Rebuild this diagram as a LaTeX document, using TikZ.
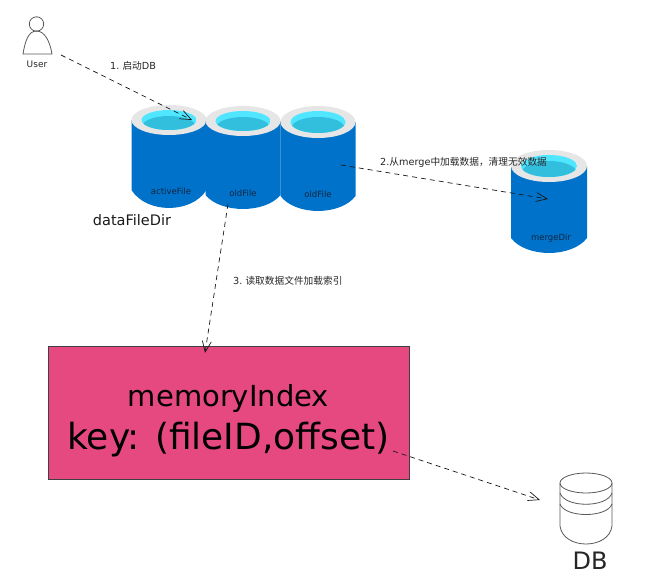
\documentclass[tikz,border=0pt]{standalone}
\usepackage{fontspec}
\setmainfont{DejaVu Sans}
\newfontfamily\cjk{Noto Sans CJK SC}
\usetikzlibrary{arrows.meta}
\definecolor{fileblue}{HTML}{0072C9}
\definecolor{rimgray}{HTML}{E6E6E6}
\definecolor{waterlight}{HTML}{50E6FF}
\definecolor{waterdark}{HTML}{32BEDD}
\definecolor{indexpink}{HTML}{E64980}
\definecolor{filetext}{HTML}{12263F}
\tikzset{
  flow/.style={draw=black!90,line width=0.7pt,dash pattern=on 5pt off 4pt,-{Straight Barb[length=11pt,width=9pt]}},
  steplabel/.style={inner sep=0pt,text=black!85,font=\fontsize{9.7}{11}\selectfont},
  filelabel/.style={inner sep=0pt,text=filetext,font=\fontsize{8.5}{10}\selectfont},
  sketch/.style={draw=black!65,line width=0.8pt}
}
\begin{document}
\begin{tikzpicture}[x=1pt,y=-1pt]
    \useasboundingbox (0,0) rectangle (653,584);

    % user
    \draw[sketch] (36.5,24) circle (7.2pt);
    \draw[sketch] (23,54) .. controls (25,42) and (28,31) .. (36.5,31)
        .. controls (45,31) and (50,42) .. (52,54) -- cycle;
    \node[steplabel,font=\fontsize{9}{11}\selectfont] (userName) at (37,64) {User};

    % data files and merge dir
    \foreach \fname/\cx/\cy/\rx/\ry/\side/\bot/\ftext/\tx/\ty in {
        activeFile/169/120/37.5/15/190/208/activeFile/171/191,
        oldFileA/243/121/37.5/15/195/209/oldFile/243/193,
        oldFileB/318/122/37.5/16/196/211/oldFile/318/194,
        mergeDir/549/166/38/16/238/253/mergeDir/551/238}{
      \fill[fileblue] ({\cx-\rx},\cy) -- ({\cx-\rx},\side)
          .. controls ({\cx-\rx*0.6},{\side+(\bot-\side)*1.33}) and ({\cx+\rx*0.6},{\side+(\bot-\side)*1.33}) .. ({\cx+\rx},\side)
          -- ({\cx+\rx},\cy) -- cycle;
      \fill[rimgray] (\cx,\cy) ellipse [x radius=\rx,y radius=\ry];
      \begin{scope}
        \clip (\cx,\cy) ellipse [x radius={\rx-10},y radius={\ry-5}];
        \fill[waterlight] (\cx,\cy) ellipse [x radius={\rx-10},y radius={\ry-5}];
        \fill[waterdark] (\cx,{\cy+6}) ellipse [x radius={\rx-11},y radius={\ry-5}];
      \end{scope}
      \node[filelabel] (\fname) at (\tx,\ty) {\ftext};
    }
    \node[inner sep=0pt,text=black!90,font=\fontsize{14.5}{16}\selectfont] (dirName) at (132,220) {dataFileDir};

    % index
    \node[draw=black!75,fill=indexpink,line width=0.9pt,minimum width=361pt,minimum height=133pt,inner sep=0pt,
        align=center] (memoryIndex) at (228.5,412.5) {\fontsize{29}{34}\selectfont\rule{0pt}{38pt}memoryIndex\\[9pt]\fontsize{36}{40}\selectfont key: (fileID,offset)};

    % db
    \draw[sketch,fill=white] (560,483) -- (560,526) .. controls (563,550) and (609,550) .. (612,526) -- (612,483);
    \draw[sketch] (586,483) ellipse [x radius=26,y radius=10];
    \draw[sketch] (560,493) .. controls (565,508) and (607,508) .. (612,493);
    \draw[sketch] (560,504) .. controls (565,518) and (607,518) .. (612,504);
    \node[inner sep=0pt,text=black!85,font=\fontsize{24}{28}\selectfont] (dbName) at (590,561) {DB};

    % flow
    \coordinate (userOut) at (61,55);
    \coordinate (activeIn) at (192,120);
    \coordinate (oldOut) at (341,165);
    \coordinate (mergeIn) at (548,199);
    \coordinate (oldDown) at (228,204);
    \coordinate (indexIn) at (205,353);
    \coordinate (indexOut) at (393,451);
    \coordinate (dbIn) at (540,500);
    \draw[flow] (userOut) -- (activeIn);
    \draw[flow] (oldOut) -- (mergeIn);
    \draw[flow] (oldDown) -- (indexIn);
    \draw[flow] (indexOut) -- (dbIn);

    \node[steplabel,anchor=west] (stepOne) at (110,66) {1.\ {\cjk 启动}DB};
    \node[steplabel,anchor=west] (stepTwo) at (380,162) {2.{\cjk 从}merge{\cjk 中加载数据，清理无效数据}};
    \node[steplabel,anchor=west] (stepThree) at (233,281) {3.\ {\cjk 读取数据文件加载索引}};
\end{tikzpicture}
\end{document}
